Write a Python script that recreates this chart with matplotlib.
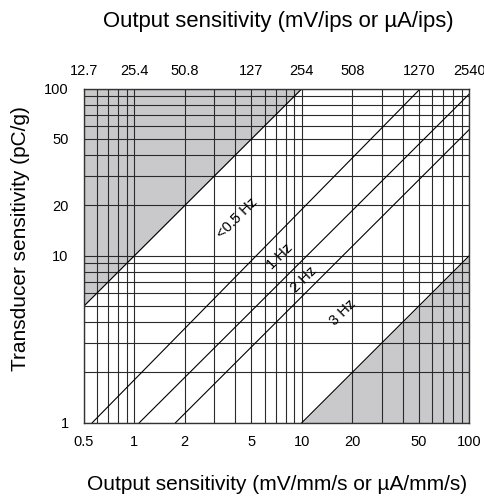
import matplotlib

matplotlib.use("Agg")
import matplotlib.pyplot as plt  # noqa: E402
from matplotlib.ticker import FixedLocator, NullFormatter  # noqa: E402

plt.rcParams["font.family"] = ["Liberation Sans", "DejaVu Sans"]

# bottom axis (mV/mm/s) and the matching top axis (mV/ips = 25.4 x)
x_ticks = [0.5, 1, 2, 5, 10, 20, 50, 100]
x_tick_labels = ["0.5", "1", "2", "5", "10", "20", "50", "100"]
top_ticks = [12.7, 25.4, 50.8, 127, 254, 508, 1270, 2540]
top_tick_labels = ["12.7", "25.4", "50.8", "127", "254", "508", "1270", "2540"]
y_ticks = [1, 10, 20, 50, 100]
y_tick_labels = ["1", "10", "20", "50", "100"]

# frequency lines, read from endpoints on the frame
line_x0 = [0.56, 1.07, 1.76]
line_y0 = [1, 1, 1]
line_x1 = [51, 100, 100]
line_y1 = [100, 93, 57]

# shaded (out of range) zones
upper_x = [0.5, 10]
upper_y = [5, 100]
lower_x = [10, 100]
lower_y = [1, 10]

# zone labels
zone_labels = ["<0.5 Hz", "1 Hz", "2 Hz", "3 Hz"]
zone_label_x = [4.1, 7.4, 10.3, 17.5]
zone_label_y = [16.7, 9.9, 7.2, 4.6]

grid_vals_x = [v * m for m in (0.1, 1, 10) for v in range(1, 10)] + [100]
grid_vals_x = [v for v in grid_vals_x if 0.5 <= v <= 100]
grid_vals_y = [v * m for m in (1, 10) for v in range(1, 10)] + [100]

SHADE = "#c9c9cb"
GRID = "#2a2a2a"

fig = plt.figure(figsize=(4.85, 4.97), dpi=100)
ax = fig.add_axes([0.1732, 0.1495, 0.7944, 0.672])
ax.set_xscale("log")
ax.set_yscale("log")
ax.set_xlim(0.5, 100)
ax.set_ylim(1, 100)

ax.fill_between(upper_x, upper_y, [100, 100], color=SHADE, lw=0, zorder=1)
ax.fill_between(lower_x, [1, 1], lower_y, color=SHADE, lw=0, zorder=1)

for gx in grid_vals_x:
    ax.axvline(gx, color=GRID, lw=0.8, zorder=1.5)
for gy in grid_vals_y:
    ax.axhline(gy, color=GRID, lw=0.8, zorder=1.5)

for x0, y0, x1, y1 in zip(line_x0, line_y0, line_x1, line_y1):
    ax.plot([x0, x1], [y0, y1], color="black", lw=0.8, zorder=2)
ax.plot([upper_x[0], upper_x[1]], [upper_y[0], upper_y[1]], color="black", lw=0.8, zorder=2)
ax.plot([lower_x[0], lower_x[1]], [lower_y[0], lower_y[1]], color="black", lw=0.8, zorder=2)

for txt, tx, ty in zip(zone_labels, zone_label_x, zone_label_y):
    ax.text(tx, ty, txt, rotation=45, ha="center", va="center", fontsize=10.5, zorder=3)

ax.xaxis.set_major_locator(FixedLocator(x_ticks))
ax.set_xticklabels(x_tick_labels)
ax.xaxis.set_minor_formatter(NullFormatter())
ax.yaxis.set_major_locator(FixedLocator(y_ticks))
ax.set_yticklabels(y_tick_labels)
ax.yaxis.set_minor_formatter(NullFormatter())
ax.tick_params(which="both", length=0, labelsize=10.5, pad=9)
ax.tick_params(axis="y", pad=11)

top = ax.secondary_xaxis("top", functions=(lambda v: v * 25.4, lambda v: v / 25.4))
top.xaxis.set_major_locator(FixedLocator(top_ticks))
top.set_xticklabels(top_tick_labels)
top.xaxis.set_minor_formatter(NullFormatter())
top.tick_params(which="both", length=0, labelsize=10.5, pad=8)
top.spines["top"].set_visible(False)

for sp in ax.spines.values():
    sp.set_color("#333333")
    sp.set_linewidth(1.0)

fig.text(0.571, 1 - 485 / 497, "Output sensitivity (mV/mm/s or \u00b5A/mm/s)",
         ha="center", va="center", fontsize=15)
fig.text(0.573, 1 - 21.5 / 497, "Output sensitivity (mV/ips or \u00b5A/ips)",
         ha="center", va="center", fontsize=15.9)
fig.text(21 / 485, 1 - 239 / 497, "Transducer sensitivity (pC/g)",
         ha="center", va="center", rotation=90, fontsize=15)

fig.savefig("out.png", dpi=100)
